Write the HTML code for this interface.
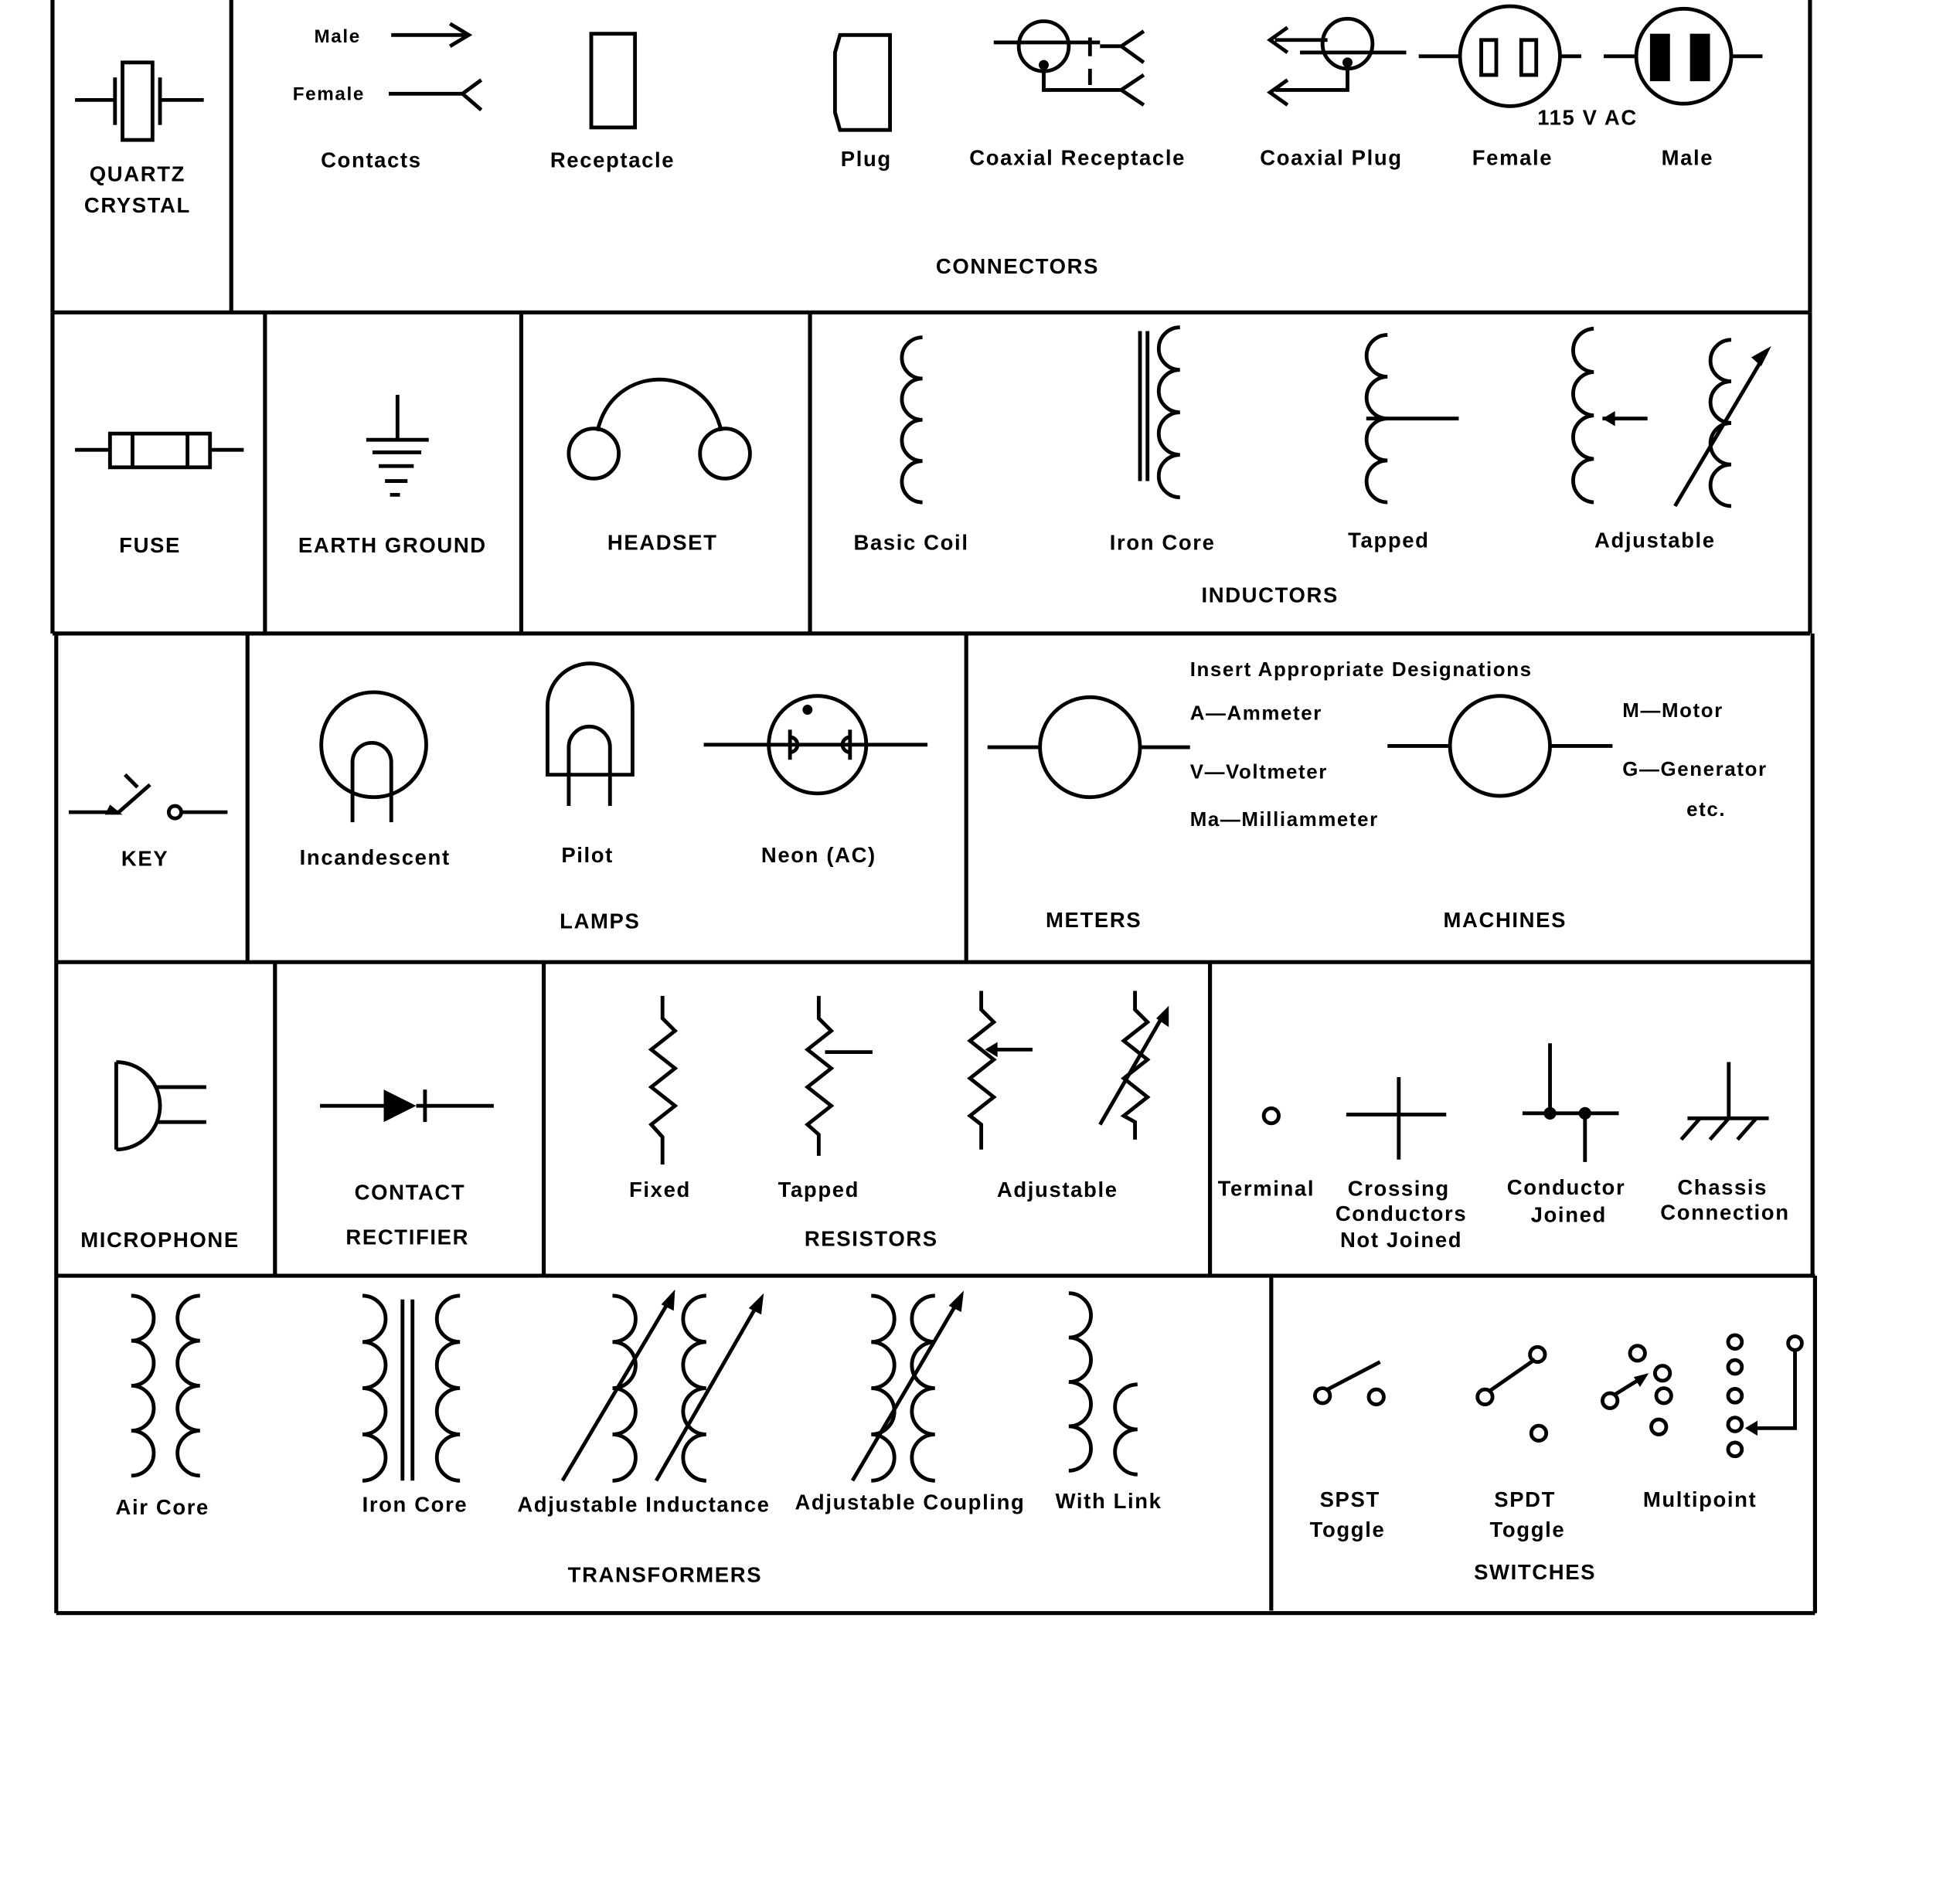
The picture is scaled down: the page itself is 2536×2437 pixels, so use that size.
<!DOCTYPE html>
<html><head><meta charset="utf-8"><style>
html,body{margin:0;padding:0;background:#fff}
svg{display:block}
text{font-family:"Liberation Sans",sans-serif;font-weight:bold;font-size:17px;fill:#000;text-anchor:middle;letter-spacing:1px}
.s{text-anchor:start}
</style></head><body>
<svg width="2536" height="2437" viewBox="0 0 1568 1507" preserveAspectRatio="none" xmlns="http://www.w3.org/2000/svg">
<g fill="none" stroke="#000" stroke-width="3.2">
<path d="M42 0V250M185 0V250M1448 0V250M42 250H1448"/>
<path d="M42 250V507M212 250V507M417 250V507M648 250V507M1448 250V507M42 507H1448"/>
<path d="M45 507V770M198 507V770M773 507V770M1450 507V770M45 770H1450"/>
<path d="M45 770V1021M220 770V1021M435 770V1021M968 770V1021M1450 770V1021M45 1021H1452"/>
<path d="M45 1021V1291M1017 1021V1289M1452 1021V1291M45 1291H1452"/>
</g>
<g fill="none" stroke="#000" stroke-width="3">
<path d="M60 80H92M92 62V100M128 62V100M128 80H163"/><rect x="98" y="50" width="24" height="62"/>
<path d="M313 28H373M360 19L375 28L360 37M311 75H370L385 64M370 75L385 88"/>
<rect x="473" y="27" width="35" height="75"/>
<path d="M672 28H712V104H672L668 90V42Z"/>
<circle cx="835" cy="37" r="20"/><path d="M795 34H880M835 57V72H897M872 30V45M872 55V68M880 37H897L915 25M897 37L915 50M897 72L915 60M897 72L915 84"/>
<circle cx="1078" cy="35" r="20"/><path d="M1040 42H1125M1078 55V72H1020M1062 32H1020M1030 22L1016 32L1030 42M1030 64L1016 74L1030 84"/>
<circle cx="1208" cy="45" r="40"/><path d="M1135 45H1168M1248 45H1265"/><rect x="1185" y="32" width="12" height="28"/><rect x="1217" y="32" width="12" height="28"/>
<circle cx="1347" cy="45" r="38"/><path d="M1283 45H1309M1385 45H1410"/>
<path d="M60 360H88M168 360H195M106 347V374M150 347V374"/><rect x="88" y="347" width="80" height="27"/>
<path d="M318 316V352M293 352H343M298 362H337M303 373H331M308 385H326M312 396H320"/>
<circle cx="475" cy="363" r="20"/><circle cx="580" cy="363" r="20"/><path d="M478 345C490 290 565 290 577 345"/>
<path d="M738 270a16.5 16.5 0 0 0 0 33a16.5 16.5 0 0 0 0 33a16.5 16.5 0 0 0 0 33a16.5 16.5 0 0 0 0 33"/>
<path d="M912 265V385M918 265V385"/>
<path d="M944 262a17 17 0 0 0 0 34a17 17 0 0 0 0 34a17 17 0 0 0 0 34a17 17 0 0 0 0 34"/>
<path d="M1110 268a16.75 16.75 0 0 0 0 33.5a16.75 16.75 0 0 0 0 33.5a16.75 16.75 0 0 0 0 33.5a16.75 16.75 0 0 0 0 33.5M1093 335H1167"/>
<path d="M1275 263a17.4 17.4 0 0 0 0 34.75a17.4 17.4 0 0 0 0 34.75a17.4 17.4 0 0 0 0 34.75a17.4 17.4 0 0 0 0 34.75M1318 335H1282"/>
<path d="M1385 272a16.6 16.6 0 0 0 0 33.25a16.6 16.6 0 0 0 0 33.25a16.6 16.6 0 0 0 0 33.25a16.6 16.6 0 0 0 0 33.25M1340 405L1413 282"/>
<path d="M55 650H95L120 628M100 620L110 630M145 650H182"/><circle cx="140" cy="650" r="5"/>
<circle cx="299" cy="596" r="42"/><path d="M282 658V610a15.5 15.5 0 0 1 31 0V658"/>
<path d="M438 620V565a34 34 0 0 1 68 0V620ZM455 645V598a16.5 16.5 0 0 1 33 0V645"/>
<circle cx="654" cy="596" r="39"/><path d="M563 596H742M632 584V608M632 590a6 6 0 0 1 0 12M680 584V608M680 590a6 6 0 0 0 0 12"/>
<circle cx="872" cy="598" r="40"/><path d="M790 598H832M912 598H952"/>
<circle cx="1200" cy="597" r="40"/><path d="M1110 597H1160M1240 597H1290"/>
<path d="M93 850V920M93 850a35 35 0 0 1 0 70M125 870H165M125 898H165"/>
<path d="M256 885H307M333 885H395M340 872V898"/>
<path d="M530 797V815L540 825L521 840L540 855L521 870L540 885L521 900L530 910V932"/>
<path d="M655 797V815L665 825L646 840L665 855L646 870L665 885L646 900L655 908V925M660 842H698"/>
<path d="M785 793V808L795 818L776 833L795 848L776 863L795 878L776 893L785 900V920M826 840H790"/>
<path d="M908 793V808L918 818L899 833L918 848L899 863L918 878L899 893L908 898V912M880 900L932 810"/>
<circle cx="1017" cy="893" r="6"/>
<path d="M1077 892H1157M1119 862V928"/>
<path d="M1240 835V891M1218 891H1295M1268 891V930"/>
<path d="M1383 850V895M1350 895H1415M1360 895L1345 912M1383 895L1368 912M1405 895L1390 912"/>
<path d="M105 1037a18 18 0 0 1 0 36a18 18 0 0 1 0 36a18 18 0 0 1 0 36a18 18 0 0 1 0 36"/>
<path d="M160 1037a18 18 0 0 0 0 36a18 18 0 0 0 0 36a18 18 0 0 0 0 36a18 18 0 0 0 0 36"/>
<path d="M290 1037a18.5 18.5 0 0 1 0 37a18.5 18.5 0 0 1 0 37a18.5 18.5 0 0 1 0 37a18.5 18.5 0 0 1 0 37M322 1040V1185M330 1040V1185"/>
<path d="M368 1037a18.5 18.5 0 0 0 0 37a18.5 18.5 0 0 0 0 37a18.5 18.5 0 0 0 0 37a18.5 18.5 0 0 0 0 37"/>
<path d="M490 1037a18.5 18.5 0 0 1 0 37a18.5 18.5 0 0 1 0 37a18.5 18.5 0 0 1 0 37a18.5 18.5 0 0 1 0 37"/>
<path d="M565 1037a18.5 18.5 0 0 0 0 37a18.5 18.5 0 0 0 0 37a18.5 18.5 0 0 0 0 37a18.5 18.5 0 0 0 0 37"/>
<path d="M450 1185L536 1040M525 1185L606 1044"/>
<path d="M697 1037a18.5 18.5 0 0 1 0 37a18.5 18.5 0 0 1 0 37a18.5 18.5 0 0 1 0 37a18.5 18.5 0 0 1 0 37"/>
<path d="M748 1037a18.5 18.5 0 0 0 0 37a18.5 18.5 0 0 0 0 37a18.5 18.5 0 0 0 0 37a18.5 18.5 0 0 0 0 37M682 1185L766 1042"/>
<path d="M855 1035a17.75 17.75 0 0 1 0 35.5a17.75 17.75 0 0 1 0 35.5a17.75 17.75 0 0 1 0 35.5a17.75 17.75 0 0 1 0 35.5"/>
<path d="M910 1108a18 18 0 0 0 0 36a18 18 0 0 0 0 36"/>
<circle cx="1058" cy="1117" r="6"/><circle cx="1101" cy="1118" r="6"/><path d="M1062 1112L1104 1090"/>
<circle cx="1188" cy="1118" r="6"/><circle cx="1230" cy="1084" r="6"/><circle cx="1231" cy="1147" r="6"/><path d="M1192 1113L1228 1088"/>
<circle cx="1310" cy="1083" r="6"/><circle cx="1330" cy="1099" r="6"/><circle cx="1331" cy="1117" r="6"/><circle cx="1327" cy="1142" r="6"/><circle cx="1288" cy="1121" r="6"/><path d="M1292 1116L1313 1103"/>
<circle cx="1388" cy="1074" r="5.5"/><circle cx="1388" cy="1094" r="5.5"/><circle cx="1388" cy="1117" r="5.5"/><circle cx="1388" cy="1140" r="5.5"/><circle cx="1388" cy="1160" r="5.5"/>
<circle cx="1436" cy="1075" r="5.5"/><path d="M1436 1081V1143H1400"/>
</g>
<g fill="#000">
<rect x="1320" y="27" width="16" height="38"/><rect x="1352" y="27" width="16" height="38"/>
<polygon points="88,644 98,652 84,652"/>
<circle cx="646" cy="568" r="4"/>
<polygon points="307,872 307,898 333,885"/>
<polygon points="1409,293 1417,277 1401,286"/>
<polygon points="1282,335 1292,329 1292,341"/>
<polygon points="788,840 798,834 798,846"/>
<polygon points="935,805 935,822 925,815"/>
<polygon points="540,1032 539,1049 529,1044"/>
<polygon points="611,1035 609,1052 599,1047"/>
<polygon points="771,1033 769,1050 759,1045"/>
<polygon points="1319,1099 1312,1110 1307,1102"/>
<polygon points="1396,1143 1406,1137 1406,1149"/>
<circle cx="1240" cy="891" r="5"/><circle cx="1268" cy="891" r="5"/>
<circle cx="835" cy="52" r="4"/><circle cx="1078" cy="50" r="4"/>
</g>
<text x="110" y="145">QUARTZ</text><text x="110" y="170">CRYSTAL</text>
<text x="270" y="34" style="font-size:15px">Male</text><text x="263" y="80" style="font-size:15px">Female</text>
<text x="297" y="134">Contacts</text><text x="490" y="134">Receptacle</text><text x="693" y="133">Plug</text>
<text x="862" y="132">Coaxial Receptacle</text><text x="1065" y="132">Coaxial Plug</text>
<text x="1270" y="100">115 V AC</text><text x="1210" y="132">Female</text><text x="1350" y="132">Male</text>
<text x="814" y="219">CONNECTORS</text>
<text x="120" y="442">FUSE</text><text x="314" y="442">EARTH GROUND</text><text x="530" y="440">HEADSET</text>
<text x="729" y="440">Basic Coil</text><text x="930" y="440">Iron Core</text><text x="1111" y="438">Tapped</text><text x="1324" y="438">Adjustable</text>
<text x="1016" y="482">INDUCTORS</text>
<text x="116" y="693">KEY</text><text x="300" y="692">Incandescent</text><text x="470" y="690">Pilot</text><text x="655" y="690">Neon (AC)</text>
<text x="480" y="743">LAMPS</text>
<text class="s" x="952" y="541" style="font-size:16px">Insert Appropriate Designations</text>
<text class="s" x="952" y="576" style="font-size:16px">A—Ammeter</text>
<text class="s" x="952" y="623" style="font-size:16px">V—Voltmeter</text>
<text class="s" x="952" y="661" style="font-size:16px">Ma—Milliammeter</text>
<text class="s" x="1298" y="574" style="font-size:16px">M—Motor</text>
<text class="s" x="1298" y="621" style="font-size:16px">G—Generator</text>
<text x="1365" y="653" style="font-size:16px">etc.</text>
<text x="875" y="742">METERS</text><text x="1204" y="742">MACHINES</text>
<text x="128" y="998">MICROPHONE</text><text x="328" y="960">CONTACT</text><text x="326" y="996">RECTIFIER</text>
<text x="528" y="958">Fixed</text><text x="655" y="958">Tapped</text><text x="846" y="958">Adjustable</text><text x="697" y="997">RESISTORS</text>
<text x="1013" y="957">Terminal</text><text x="1119" y="957">Crossing</text><text x="1121" y="977">Conductors</text><text x="1121" y="998">Not Joined</text>
<text x="1253" y="956">Conductor</text><text x="1255" y="978">Joined</text><text x="1378" y="956">Chassis</text><text x="1380" y="976">Connection</text>
<text x="130" y="1212">Air Core</text><text x="332" y="1210">Iron Core</text><text x="515" y="1210">Adjustable Inductance</text><text x="728" y="1208">Adjustable Coupling</text><text x="887" y="1207">With Link</text>
<text x="532" y="1266">TRANSFORMERS</text>
<text x="1080" y="1206">SPST</text><text x="1078" y="1230">Toggle</text><text x="1220" y="1206">SPDT</text><text x="1222" y="1230">Toggle</text><text x="1360" y="1206">Multipoint</text>
<text x="1228" y="1264">SWITCHES</text>
</svg>
</body></html>
